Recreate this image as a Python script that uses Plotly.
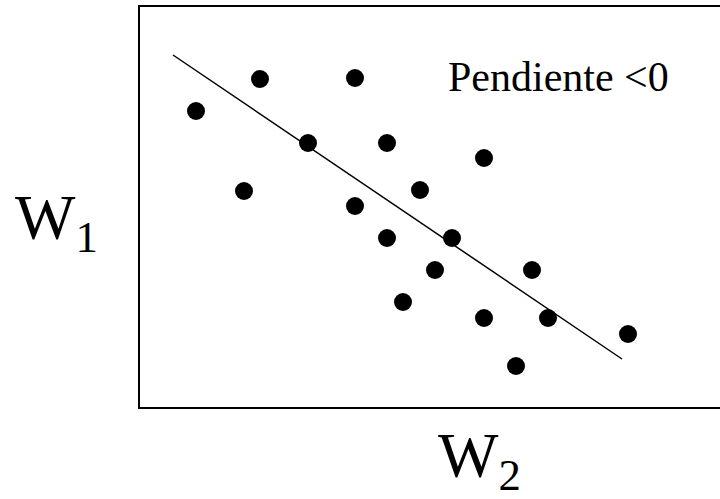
import plotly.graph_objects as go

# Data (arbitrary units: W2 horizontal, W1 vertical)
w2_points = [56, 120, 215, 104, 168, 247, 344, 280, 215, 247, 312, 295, 392, 263, 344, 408, 488, 376]
w1_points = [296, 328, 329, 216, 264, 264, 249, 217, 201, 169, 169, 137, 137, 105, 89, 89, 73, 41]

trend_w2 = [33, 482]
trend_w1 = [352, 48]

label_text = "Pendiente <0"
x_label = "W<sub>2</sub>"
y_label = "W<sub>1</sub>"

fig = go.Figure()
fig.add_trace(go.Scatter(x=trend_w2, y=trend_w1, mode="lines",
                         line=dict(color="black", width=1.5), showlegend=False,
                         hoverinfo="skip"))
fig.add_trace(go.Scatter(x=w2_points, y=w1_points, mode="markers",
                         marker=dict(color="black", size=18), showlegend=False))

serif = "Liberation Serif"

fig.add_annotation(x=418, y=330, xref="x", yref="y", text=label_text, showarrow=False,
                   font=dict(family=serif, size=42, color="black"), xanchor="center", yanchor="middle")
fig.add_annotation(x=(13 - 140) / 580, y=(407 - 222) / 400, xref="paper", yref="paper",
                   text=y_label, showarrow=False, xanchor="left", yanchor="middle",
                   font=dict(family=serif, size=64, color="black"))
fig.add_annotation(x=(480 - 140) / 580, y=-(460 - 407) / 400, xref="paper", yref="paper",
                   text=x_label, showarrow=False, xanchor="center", yanchor="middle",
                   font=dict(family=serif, size=64, color="black"))

fig.update_xaxes(range=[0, 580], showgrid=False, zeroline=False, showticklabels=False,
                 ticks="", showline=True, linecolor="black", linewidth=2, mirror=True)
fig.update_yaxes(range=[0, 400], showgrid=False, zeroline=False, showticklabels=False,
                 ticks="", showline=True, linecolor="black", linewidth=2, mirror=False)

fig.update_layout(width=720, height=499, margin=dict(l=140, r=0, t=7, b=92),
                  plot_bgcolor="white", paper_bgcolor="white",
                  font=dict(family=serif))

fig.write_html("out.html", config={"displayModeBar": False},
               post_script="document.body.style.margin='0';")
